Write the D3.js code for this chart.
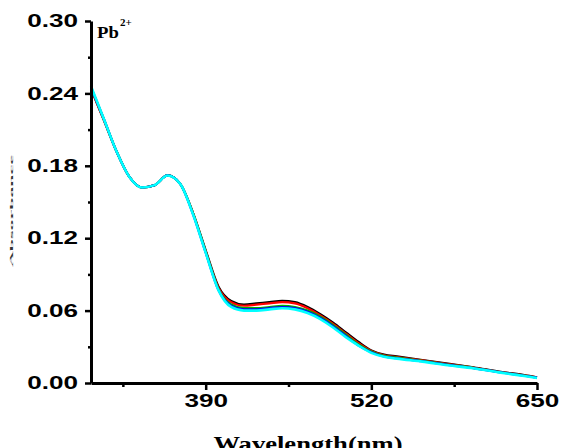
<!DOCTYPE html>
<html>
<head>
<meta charset="utf-8">
<script src="https://cdn.jsdelivr.net/npm/d3@7"></script>
<style>
  body { margin: 0; background: #fff; }
  svg { display: block; }
</style>
</head>
<body>
<div id="chart"></div>
<script>
// --- Data ---
const wavelengths = [300, 310, 320, 330, 340, 350, 360, 370, 380, 390, 400, 410, 420, 430, 440, 450, 460, 470, 480, 490, 500, 510, 520, 530, 540, 560, 580, 600, 620, 640, 650];

const blackSeries = [0.244, 0.218, 0.192, 0.171, 0.162, 0.164, 0.172, 0.165, 0.141, 0.110, 0.080, 0.068, 0.065, 0.066, 0.067, 0.068, 0.067, 0.063, 0.057, 0.050, 0.042, 0.034, 0.027, 0.0235, 0.022, 0.019, 0.016, 0.013, 0.0095, 0.0065, 0.0047];
const redSeries   = [0.244, 0.218, 0.192, 0.171, 0.162, 0.164, 0.172, 0.165, 0.141, 0.109, 0.079, 0.067, 0.064, 0.065, 0.066, 0.067, 0.066, 0.062, 0.056, 0.049, 0.041, 0.033, 0.0265, 0.023, 0.0215, 0.0187, 0.0157, 0.0128, 0.0093, 0.0063, 0.0046];
const greenSeries = [0.245, 0.219, 0.192, 0.171, 0.162, 0.164, 0.172, 0.165, 0.141, 0.109, 0.078, 0.065, 0.062, 0.062, 0.063, 0.064, 0.063, 0.060, 0.055, 0.048, 0.040, 0.032, 0.026, 0.0225, 0.021, 0.0183, 0.0153, 0.0126, 0.0091, 0.0062, 0.0045];
const blueSeries  = [0.245, 0.219, 0.192, 0.171, 0.162, 0.164, 0.172, 0.165, 0.140, 0.108, 0.077, 0.064, 0.061, 0.061, 0.062, 0.063, 0.062, 0.059, 0.054, 0.047, 0.039, 0.031, 0.0255, 0.022, 0.0205, 0.018, 0.015, 0.0124, 0.009, 0.006, 0.0044];
const cyanSeries  = [0.246, 0.219, 0.192, 0.171, 0.162, 0.164, 0.172, 0.165, 0.140, 0.108, 0.077, 0.063, 0.060, 0.060, 0.061, 0.062, 0.061, 0.058, 0.053, 0.046, 0.038, 0.031, 0.025, 0.0218, 0.0202, 0.0177, 0.0147, 0.0122, 0.0088, 0.0058, 0.0042];

const seriesList = [
    { name: 'black', color: '#000000', values: blackSeries },
    { name: 'red',   color: '#ff0000', values: redSeries },
    { name: 'green', color: '#00b000', values: greenSeries },
    { name: 'blue',  color: '#0000ff', values: blueSeries },
    { name: 'cyan',  color: '#00ffff', values: cyanSeries }
];

const xTicks = [390, 520, 650];
const xMinorTicks = [325, 455, 585];
const yTicks = [0.00, 0.06, 0.12, 0.18, 0.24, 0.30];
const yMinorTicks = [0.03, 0.09, 0.15, 0.21, 0.27];

// --- Layout ---
const width = 562, height = 448;
const margin = { top: 21, right: 25, bottom: 65, left: 91 };
const innerW = width - margin.left - margin.right;
const innerH = height - margin.top - margin.bottom;
const stretch = 1.45; // tick labels look horizontally stretched

const svg = d3.select('#chart')
    .append('svg')
    .attr('width', width)
    .attr('height', height);

const g = svg.append('g')
    .attr('transform', `translate(${margin.left},${margin.top})`);

const x = d3.scaleLinear().domain([300, 650]).range([0, innerW]);
const y = d3.scaleLinear().domain([0, 0.30]).range([innerH, 0]);

// --- Curves ---
const line = d3.line()
    .x((d, i) => x(wavelengths[i]))
    .y(d => y(d))
    .curve(d3.curveMonotoneX);

seriesList.forEach(s => {
    g.append('path')
        .datum(s.values)
        .attr('fill', 'none')
        .attr('stroke', s.color)
        .attr('stroke-width', s.name === 'cyan' ? 2.6 : 2.2)
        .attr('d', line);
});

// --- Axes ---
function styleAxis(sel) {
    sel.select('.domain').attr('stroke', '#000').attr('stroke-width', 3);
    sel.selectAll('.tick line').attr('stroke', '#000').attr('stroke-width', 2.5);
    sel.selectAll('text')
        .attr('font-family', 'Liberation Sans, Arial, sans-serif')
        .attr('font-weight', 'bold')
        .attr('font-size', 18)
        .attr('fill', '#000');
}

const xAxis = g.append('g')
    .attr('transform', `translate(0,${innerH})`)
    .call(d3.axisBottom(x).tickValues(xTicks).tickSize(7).tickPadding(4).tickSizeOuter(0).tickFormat(d3.format('d')));
styleAxis(xAxis);
xAxis.selectAll('text')
    .attr('transform', function () { return `translate(0,${d3.select(this).attr('y')}) scale(${stretch},1)`; })
    .attr('y', 0)
    .attr('dy', '0.71em');

const xMinor = g.append('g')
    .attr('transform', `translate(0,${innerH})`)
    .call(d3.axisBottom(x).tickValues(xMinorTicks).tickSize(4).tickSizeOuter(0).tickFormat(''));
xMinor.select('.domain').remove();
xMinor.selectAll('.tick line').attr('stroke', '#000').attr('stroke-width', 2.5);

const yAxis = g.append('g')
    .call(d3.axisLeft(y).tickValues(yTicks).tickSize(6).tickPadding(7).tickSizeOuter(0).tickFormat(d3.format('.2f')));
styleAxis(yAxis);
yAxis.selectAll('text')
    .attr('transform', function () { return `translate(${d3.select(this).attr('x')},0) scale(${stretch},1)`; })
    .attr('x', 0);

const yMinor = g.append('g')
    .call(d3.axisLeft(y).tickValues(yMinorTicks).tickSize(3).tickSizeOuter(0).tickFormat(''));
yMinor.select('.domain').remove();
yMinor.selectAll('.tick line').attr('stroke', '#000').attr('stroke-width', 2.5);

// --- Labels ---
// axis title is cut by the bottom edge in the reference too
svg.append('text')
    .attr('transform', `translate(${margin.left + innerW / 2 - 6},451) scale(1.33,1)`)
    .attr('text-anchor', 'middle')
    .attr('font-family', 'Liberation Serif, Times New Roman, serif')
    .attr('font-weight', 'bold')
    .attr('font-size', 20)
    .text('Wavelength(nm)');

svg.append('text')
    .attr('transform', 'translate(13,211) rotate(-90)')
    .attr('text-anchor', 'middle')
    .attr('font-family', 'Liberation Serif, serif')
    .attr('font-weight', 'bold')
    .attr('font-size', 4)
    .attr('textLength', 112)
    .attr('lengthAdjust', 'spacingAndGlyphs')
    .attr('fill', '#333')
    .text('Absorbance');

const pb = svg.append('text')
    .attr('transform', 'translate(97,38) scale(1.1,1)')
    .attr('font-family', 'Liberation Serif, Times New Roman, serif')
    .attr('font-weight', 'bold')
    .attr('font-size', 17);
pb.append('tspan').text('Pb');
pb.append('tspan').attr('font-size', 10).attr('dy', -12).attr('dx', 1).text('2+');
</script>
</body>
</html>
